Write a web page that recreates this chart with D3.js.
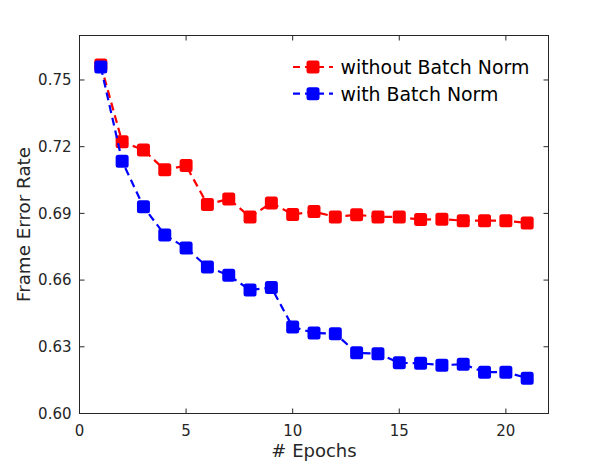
<!DOCTYPE html>
<html>
<head>
<meta charset="utf-8">
<script src="https://cdn.jsdelivr.net/npm/d3@7"></script>
<style>
  body { margin: 0; background: #fff; }
  svg { display: block; font-family: "DejaVu Sans", sans-serif; }
</style>
</head>
<body>
<svg id="svg" width="608" height="465"></svg>
<script>
const epochs = d3.range(1, 22);
const withoutBN = [0.7567, 0.7222, 0.7185, 0.7096, 0.7115, 0.6940, 0.6965, 0.6884, 0.6947,
                   0.6895, 0.6908, 0.6884, 0.6894, 0.6884, 0.6884, 0.6872, 0.6874, 0.6867,
                   0.6867, 0.6867, 0.6857];
const withBN = [0.7558, 0.7135, 0.6930, 0.6803, 0.6744, 0.6659, 0.6622, 0.6555, 0.6567,
                0.6389, 0.6362, 0.6359, 0.6273, 0.6269, 0.6228, 0.6226, 0.6217, 0.6222,
                0.6186, 0.6186, 0.6159];
const xTicks = [0, 5, 10, 15, 20];
const yTicks = [0.60, 0.63, 0.66, 0.69, 0.72, 0.75];
const seriesNames = ["without Batch Norm", "with Batch Norm"];
const seriesColors = ["#ff0000", "#0000ff"];

draw();

function draw(
    {
        left = 79.5,
        right = 548.5,
        top = 35.5,
        bottom = 413.5,
        axisColor = "#262626",
        tickLen = 5,
        markerSize = 11,
        dash = "8,5"
    } = {}
) {
    const svg = d3.select("#svg");

    const x = d3.scaleLinear([0, 22], [left, right]);
    const y = d3.scaleLinear([0.60, 0.77], [bottom, top]);

    const series = [withoutBN, withBN].map((vals, i) => ({
        name: seriesNames[i],
        color: seriesColors[i],
        values: vals.map((v, j) => ({ x: epochs[j], y: v }))
    }));

    const line = d3.line().x(d => x(d.x)).y(d => y(d.y));

    const plot = svg.append("g");

    series.forEach(s => {
        const g = plot.append("g");
        g.append("path")
            .datum(s.values)
            .attr("d", line)
            .attr("fill", "none")
            .attr("stroke", s.color)
            .attr("stroke-width", 2.2)
            .attr("stroke-dasharray", dash);
        g.selectAll("rect")
            .data(s.values)
            .join("rect")
            .attr("x", d => x(d.x) - markerSize / 2)
            .attr("y", d => y(d.y) - markerSize / 2)
            .attr("width", markerSize)
            .attr("height", markerSize)
            .attr("rx", 1.5)
            .attr("fill", s.color)
            .attr("stroke", s.color)
            .attr("stroke-width", 2);
    });

    // box with inward ticks on all sides
    const axisG = svg.append("g").attr("font-size", 15).attr("fill", axisColor);

    axisG.append("rect")
        .attr("x", left).attr("y", top)
        .attr("width", right - left).attr("height", bottom - top)
        .attr("fill", "none").attr("stroke", axisColor).attr("stroke-width", 1);

    xTicks.forEach(t => {
        axisG.append("line")
            .attr("x1", x(t)).attr("x2", x(t)).attr("y1", bottom).attr("y2", bottom - tickLen)
            .attr("stroke", axisColor);
        axisG.append("line")
            .attr("x1", x(t)).attr("x2", x(t)).attr("y1", top).attr("y2", top + tickLen)
            .attr("stroke", axisColor);
    });
    axisG.selectAll("text.xt")
        .data(xTicks)
        .join("text")
        .attr("class", "xt")
        .attr("x", d => x(d))
        .attr("y", 436)
        .attr("text-anchor", "middle")
        .text(d => d);

    yTicks.forEach(t => {
        axisG.append("line")
            .attr("x1", left).attr("x2", left + tickLen).attr("y1", y(t)).attr("y2", y(t))
            .attr("stroke", axisColor);
        axisG.append("line")
            .attr("x1", right).attr("x2", right - tickLen).attr("y1", y(t)).attr("y2", y(t))
            .attr("stroke", axisColor);
    });
    axisG.selectAll("text.yt")
        .data(yTicks)
        .join("text")
        .attr("class", "yt")
        .attr("x", left - 8)
        .attr("y", d => y(d))
        .attr("dy", "0.36em")
        .attr("text-anchor", "end")
        .text(d => d3.format(".2f")(d));

    svg.append("text")
        .attr("x", (left + right) / 2)
        .attr("y", 457)
        .attr("text-anchor", "middle")
        .attr("font-size", 18)
        .attr("fill", axisColor)
        .text("# Epochs");

    svg.append("text")
        .attr("transform", `translate(30, ${(top + bottom) / 2}) rotate(-90)`)
        .attr("text-anchor", "middle")
        .attr("font-size", 18.3)
        .attr("fill", axisColor)
        .text("Frame Error Rate");

    // legend
    const legend = svg.append("g")
        .selectAll("g")
        .data(series)
        .join("g")
        .attr("transform", (_, i) => `translate(293, ${67 + i * 26.7})`);

    legend.append("line")
        .attr("x1", 0).attr("x2", 40)
        .attr("stroke", d => d.color)
        .attr("stroke-width", 2.2)
        .attr("stroke-dasharray", "7,5");

    legend.append("rect")
        .attr("x", 20 - markerSize / 2)
        .attr("y", -markerSize / 2)
        .attr("width", markerSize)
        .attr("height", markerSize)
        .attr("rx", 1.5)
        .attr("fill", d => d.color)
        .attr("stroke", d => d.color)
        .attr("stroke-width", 2);

    legend.append("text")
        .attr("x", 47.5)
        .attr("dy", "0.36em")
        .attr("font-size", 18.9)
        .attr("fill", "#000")
        .text(d => d.name);
}
</script>
</body>
</html>
